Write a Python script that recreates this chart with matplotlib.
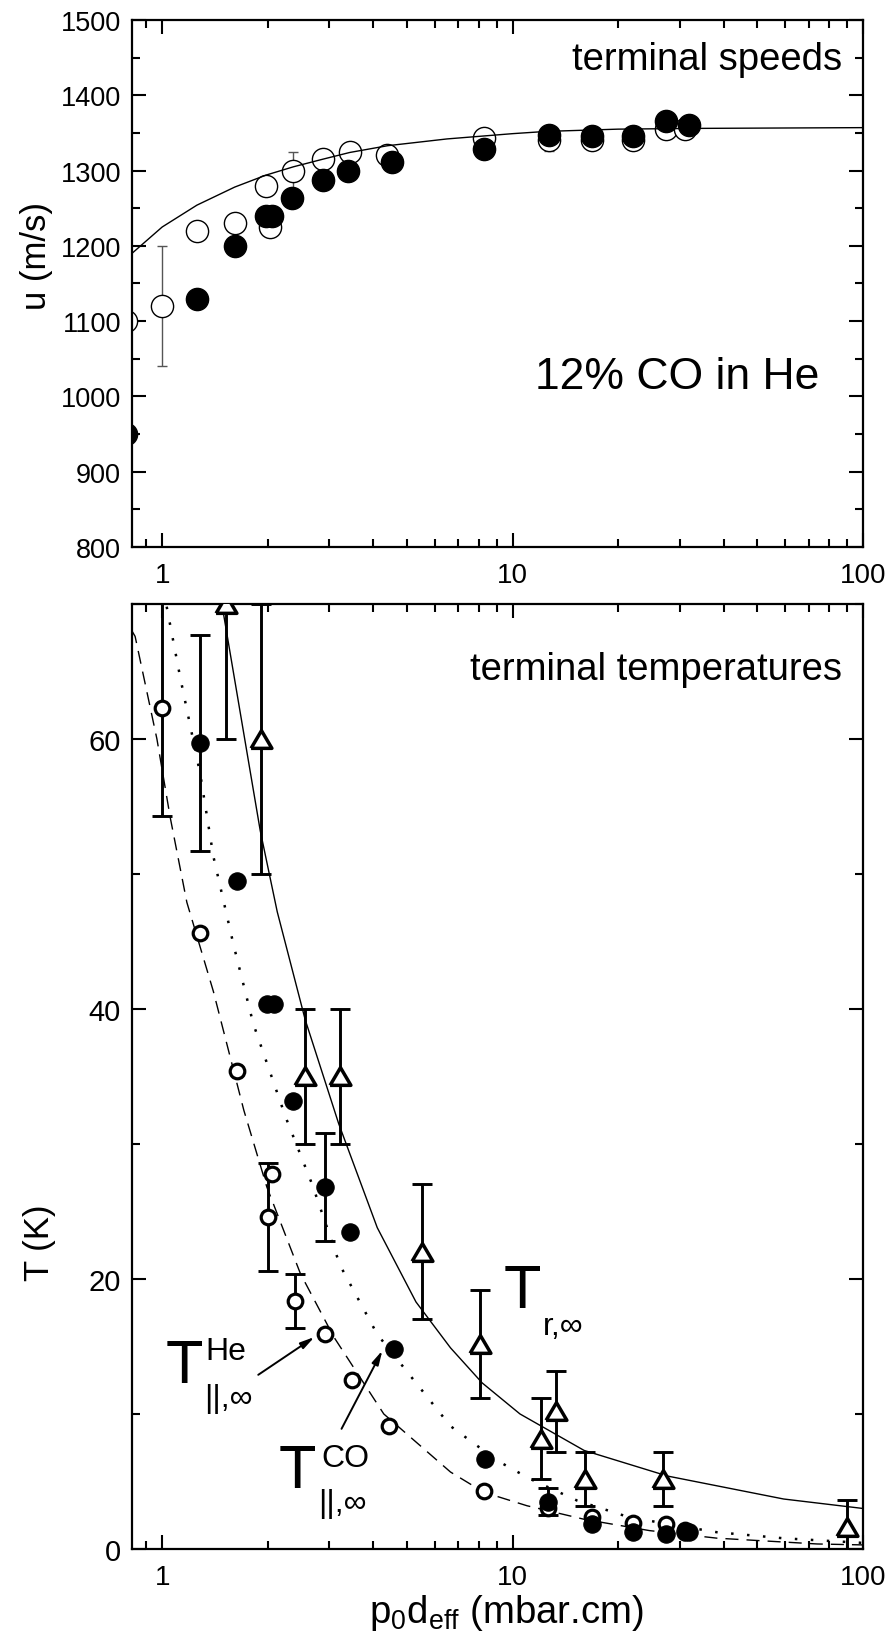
import numpy as np
import matplotlib
matplotlib.use('Agg')
import matplotlib.pyplot as plt
from matplotlib.ticker import MultipleLocator, LogLocator, FixedLocator, FixedFormatter, NullFormatter

plt.rcParams['font.family'] = ['Liberation Sans', 'DejaVu Sans']

# ---- terminal speeds (top panel) ----
u_he_x = [0.79, 1.0, 1.256, 1.61, 1.98, 2.03, 2.37, 2.87, 3.43, 4.37, 8.28, 12.7, 16.9, 22.1, 27.5, 31.1]
u_he_y = [1100, 1120, 1220, 1230, 1280, 1225, 1300, 1315, 1325, 1320, 1343, 1341, 1341, 1341, 1355, 1355]
u_he_err = [0, 80, 0, 0, 0, 0, 25, 0, 0, 0, 0, 15, 0, 0, 0, 0]

u_co_x = [0.79, 1.256, 1.61, 1.98, 2.06, 2.34, 2.87, 3.39, 4.53, 8.3, 12.7, 16.9, 22.1, 27.5, 31.9]
u_co_y = [950, 1130, 1200, 1240, 1240, 1264, 1288, 1300, 1311, 1328, 1347, 1346, 1346, 1366, 1360]

u_fit_x = [0.82, 1.0, 1.256, 1.61, 1.98, 2.37, 2.87, 3.43, 4.4, 6.5, 10, 12.5, 20, 33.7, 100]
u_fit_y = [1190, 1225, 1254, 1278, 1294, 1305, 1315, 1324, 1333, 1342, 1349, 1352, 1355, 1356, 1357]

# ---- terminal temperatures (bottom panel) ----
t_he_x = [1.0, 1.28, 1.64, 2.01, 2.06, 2.4, 2.92, 3.48, 4.43, 8.28, 12.6, 16.9, 22.1, 27.5, 31.1]
t_he_y = [62.3, 45.6, 35.4, 24.6, 27.8, 18.4, 15.9, 12.5, 9.1, 4.3, 3.0, 2.35, 1.9, 1.85, 1.4]
t_he_err = [8, 0, 0, 4, 0, 2, 0, 0, 0, 0, 0, 0, 0, 0, 0]

t_co_x = [1.28, 1.64, 1.99, 2.08, 2.37, 2.92, 3.43, 4.58, 8.33, 12.6, 16.9, 22.1, 27.5, 31.1, 31.9]
t_co_y = [59.7, 49.5, 40.4, 40.4, 33.2, 26.8, 23.5, 14.8, 6.7, 3.5, 1.85, 1.24, 1.1, 1.24, 1.24]
t_co_err = [8, 0, 0, 0, 0, 4, 0, 0, 0, 1, 0, 0, 0, 0, 0]

t_rot_x = [1.52, 1.92, 2.56, 3.21, 5.52, 8.07, 12.08, 13.27, 16.07, 26.9, 90]
t_rot_y = [70, 60, 35, 35, 22, 15.2, 8.15, 10.2, 5.2, 5.2, 1.6]
t_rot_err = [10, 10, 5, 5, 5, 4, 3, 3, 2, 2, 2]

fit_rot_x = [1.48, 1.905, 2.13, 2.56, 3.19, 4.11, 5.3, 6.65, 8.19, 10.5, 16.0, 27.7, 59.4, 100]
fit_rot_y = [70, 53.2, 47.2, 39.2, 31.5, 23.8, 18.3, 14.9, 12.3, 10.0, 7.3, 5.4, 3.7, 3.0]

fit_co_x = [1.03, 1.125, 1.284, 1.40, 1.60, 1.82, 2.25, 2.68, 3.22, 4.11, 6.65, 9.05, 11.2, 15.3, 20.8, 25.9, 38.3, 59.4, 100]
fit_co_y = [69.8, 64.6, 57.4, 51.3, 44.7, 38.9, 32.0, 27.0, 21.0, 15.9, 9.1, 6.54, 5.2, 3.58, 2.47, 1.98, 1.24, 0.79, 0.45]

fit_he_x = [0.82, 0.837, 0.966, 1.054, 1.176, 1.40, 1.71, 1.99, 2.48, 3.09, 4.29, 6.65, 8.28, 11.0, 16.0, 24.6, 38.3, 74, 100]
fit_he_y = [68.0, 67.6, 60.0, 54.2, 47.9, 41.3, 32.5, 26.8, 20.4, 15.7, 10.0, 5.7, 4.2, 3.2, 2.2, 1.36, 0.8, 0.37, 0.3]


def sel(x, y, e):
    idx = [i for i in range(len(e)) if e[i] > 0]
    return [x[i] for i in idx], [y[i] for i in idx], [e[i] for i in idx]


fig = plt.figure(figsize=(8.9, 16.4), dpi=100)
ax1 = fig.add_axes([0.1483, 0.6659, 0.8213, 0.3213])
ax2 = fig.add_axes([0.1483, 0.0549, 0.8213, 0.5762])

for ax in (ax1, ax2):
    ax.set_xscale('log')
    ax.set_xlim(0.82, 100)
    ax.xaxis.set_major_locator(FixedLocator([1, 10, 100]))
    ax.xaxis.set_major_formatter(FixedFormatter(['1', '10', '100']))
    ax.xaxis.set_minor_locator(LogLocator(base=10, subs=np.arange(2, 10) * 1.0, numticks=12))
    ax.xaxis.set_minor_formatter(NullFormatter())
    ax.tick_params(which='both', direction='in', top=True, right=True, width=1.5, labelsize=20)
    ax.tick_params(which='major', length=10)
    ax.tick_params(which='minor', length=6)
    ax.tick_params(axis='x', pad=11)
    ax.tick_params(axis='y', pad=8)
    for s in ax.spines.values():
        s.set_linewidth(1.6)
ax1.tick_params(axis='y', labelsize=19.5)
ax2.tick_params(axis='y', labelsize=21)

# top panel
ax1.set_ylim(800, 1500)
ax1.yaxis.set_major_locator(MultipleLocator(100))
ax1.yaxis.set_minor_locator(MultipleLocator(50))

ex, ey, ee = sel(u_he_x, u_he_y, u_he_err)
ax1.errorbar(ex, ey, yerr=ee, fmt='none', ecolor='#555555', elinewidth=1.0,
             capsize=3.6, capthick=1.0, zorder=1)
ax1.plot(u_he_x, u_he_y, 'o', ms=16, mfc='white', mec='black', mew=1.0, zorder=2)
ax1.plot(u_co_x, u_co_y, 'o', ms=16, mfc='black', mec='black', mew=1.0, zorder=2.5)
ax1.plot(u_fit_x, u_fit_y, '-', color='black', lw=1.0, zorder=3)

ax1.set_ylabel('u (m/s)', fontsize=25, va='center')
ax1.yaxis.set_label_coords(-0.13, 0.554)
ax1.text(0.971, 0.907, 'terminal speeds', transform=ax1.transAxes,
         ha='right', va='baseline', fontsize=27.5)
ax1.text(0.941, 0.302, '12% CO in He', transform=ax1.transAxes,
         ha='right', va='baseline', fontsize=32)

# bottom panel
ax2.set_ylim(0, 70)
ax2.yaxis.set_major_locator(MultipleLocator(20))
ax2.yaxis.set_minor_locator(MultipleLocator(10))

ax2.plot(fit_rot_x, fit_rot_y, '-', color='black', lw=1.0, zorder=1)
ax2.plot(fit_co_x, fit_co_y, color='black', lw=1.8, linestyle=(0, (1, 5.4)), zorder=1)
ax2.plot(fit_he_x, fit_he_y, color='black', lw=1.0, linestyle=(0, (9.4, 5.8)), zorder=1)

err_kw = dict(fmt='none', ecolor='black', elinewidth=2.1, capsize=7.5, capthick=2.1, zorder=2)
for xs, ys, es in [(t_rot_x, t_rot_y, t_rot_err), (t_he_x, t_he_y, t_he_err), (t_co_x, t_co_y, t_co_err)]:
    ex, ey, ee = sel(xs, ys, es)
    ax2.errorbar(ex, ey, yerr=ee, **err_kw)

tri = [(-1, -0.85), (1, -0.85), (0, 0.85), (-1, -0.85)]
ax2.plot(t_he_x, t_he_y, 'o', ms=10.5, mfc='white', mec='black', mew=2.3, zorder=3)
ax2.plot(t_co_x, t_co_y, 'o', ms=12.5, mfc='black', mec='black', mew=0.8, zorder=4)
ax2.plot(t_rot_x, t_rot_y, marker=tri, ls='none', ms=15, mfc='white', mec='black', mew=2.5, zorder=5)

ax2.set_ylabel('T (K)', fontsize=25, va='center')
ax2.yaxis.set_label_coords(-0.126, 0.325)
ax2.set_xlabel(r'$\mathregular{p_0d_{eff}}$ (mbar.cm)', fontsize=27.5, va='center')
ax2.xaxis.set_label_coords(0.512, -0.067)
ax2.text(0.972, 0.921, 'terminal temperatures', transform=ax2.transAxes,
         ha='right', va='baseline', fontsize=27.5)

# curve labels
big = 44
small = 23
ax2.text(1.025, 12.37, 'T', fontsize=big, ha='left', va='baseline')
ax2.text(1.33, 14.07, 'He', fontsize=small, ha='left', va='baseline')
ax2.text(1.318, 10.6, '||,\u221e', fontsize=small, ha='left', va='baseline')

ax2.text(2.15, 4.59, 'T', fontsize=big, ha='left', va='baseline')
ax2.text(2.84, 6.15, 'CO', fontsize=small, ha='left', va='baseline')
ax2.text(2.79, 2.8, '||,\u221e', fontsize=small, ha='left', va='baseline')

ax2.text(9.45, 17.9, 'T', fontsize=big, ha='left', va='baseline')
ax2.text(12.2, 15.9, 'r,\u221e', fontsize=small, ha='left', va='baseline')

arrow = dict(arrowstyle='-|>,head_length=0.6,head_width=0.15', lw=1.4, color='black',
             mutation_scale=14, shrinkA=0, shrinkB=0)
ax2.annotate('', xy=(2.72, 15.7), xytext=(1.88, 12.9), arrowprops=arrow)
ax2.annotate('', xy=(4.25, 14.7), xytext=(3.25, 8.9), arrowprops=arrow)

fig.savefig('out.png', dpi=100)
